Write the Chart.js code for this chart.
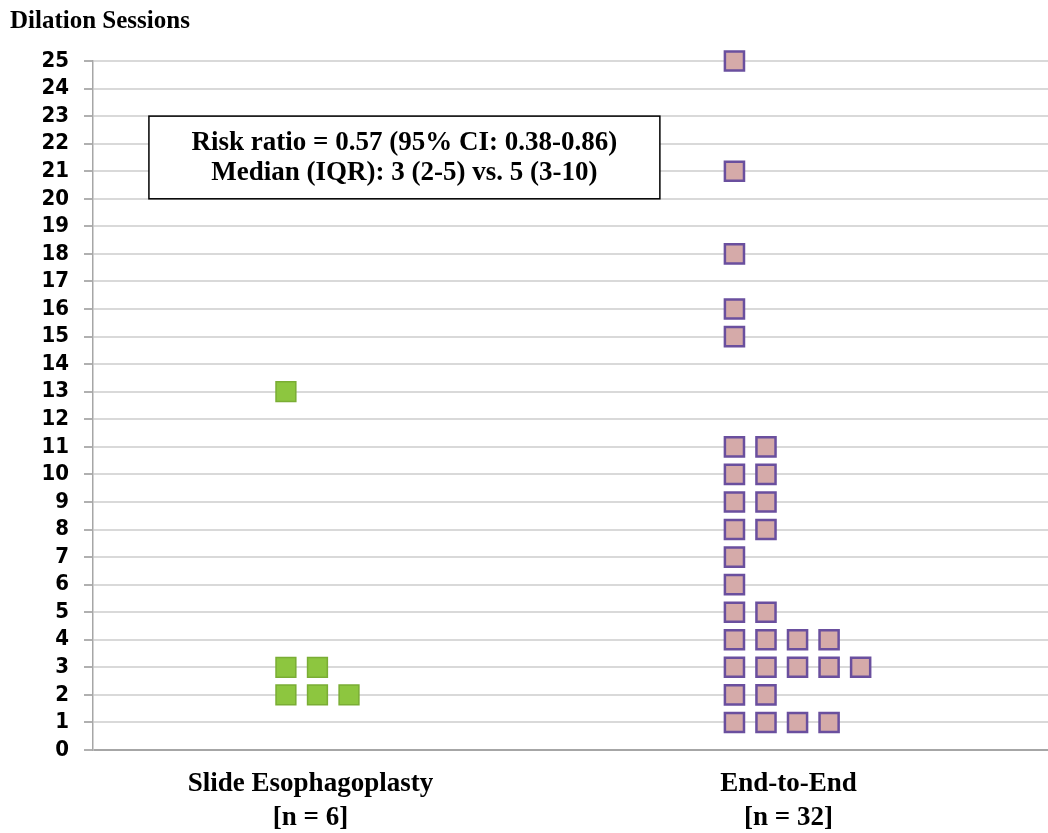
<!DOCTYPE html>
<html>
<head>
<meta charset="utf-8">
<script src="https://cdn.jsdelivr.net/npm/chart.js@4/dist/chart.umd.min.js"></script>
<style>
  html, body { margin: 0; padding: 0; background: #fff; overflow: hidden; }
  #wrap { width: 1048px; height: 833px; position: relative; }
  canvas { display: block; }
</style>
</head>
<body>
<div id="wrap"><canvas id="dotChart"></canvas></div>
<script>
// Groups and their sample sizes
const groupNames = ['Slide Esophagoplasty', 'End-to-End'];
const groupCounts = ['[n = 6]', '[n = 32]'];

// Dilation sessions per patient
const slideSessions = [13, 3, 3, 2, 2, 2];
const endSessions = [25, 21, 18, 16, 15, 11, 11, 10, 10, 9, 9, 8, 8, 7, 6, 5, 5,
    4, 4, 4, 4, 3, 3, 3, 3, 3, 2, 2, 1, 1, 1, 1];

const statLines = ['Risk ratio = 0.57 (95% CI: 0.38-0.86)', 'Median (IQR): 3 (2-5) vs. 5 (3-10)'];

// layout of the stacked squares (x axis runs -0.455 .. 1.543)
const STEP = 0.066;
function stackDots(values, base) {
    const seen = {};
    return values.map(v => {
        const k = seen[v] || 0;
        seen[v] = k + 1;
        return { x: base + k * STEP, y: v };
    });
}

// Annotation box
const statBox = {
    id: 'statBox',
    afterDatasetsDraw(chart) {
        const { ctx, scales: { x, y } } = chart;
        const left = x.getPixelForValue(-0.338);
        const right = x.getPixelForValue(0.731);
        const top = y.getPixelForValue(23);
        const bottom = y.getPixelForValue(20);
        ctx.save();
        ctx.fillStyle = '#fff';
        ctx.fillRect(left, top, right - left, bottom - top);
        ctx.strokeStyle = '#000';
        ctx.lineWidth = 1.5;
        ctx.strokeRect(left, top, right - left, bottom - top);
        ctx.fillStyle = '#000';
        ctx.font = "bold 27px 'Liberation Serif'";
        ctx.textAlign = 'center';
        ctx.textBaseline = 'middle';
        const cx = (left + right) / 2, cy = (top + bottom) / 2;
        ctx.fillText(statLines[0], cx, cy - 14);
        ctx.fillText(statLines[1], cx, cy + 16);
        ctx.restore();
    }
};

const ctx = document.getElementById('dotChart').getContext('2d');
const dotChart = new Chart(ctx, {
    type: 'scatter',
    data: {
        datasets: [{
            label: groupNames[0],
            data: stackDots(slideSessions, -0.0514),
            pointStyle: 'rect',
            pointRadius: 14,
            backgroundColor: '#8dc63f',
            borderColor: '#7aad34',
            borderWidth: 1.5,
            clip: false
        }, {
            label: groupNames[1],
            data: stackDots(endSessions, 0.887),
            pointStyle: 'rect',
            pointRadius: 13.5,
            backgroundColor: '#d5aaa9',
            borderColor: '#6a4f9e',
            borderWidth: 2.5,
            clip: false
        }]
    },
    options: {
        responsive: true,
        maintainAspectRatio: false,
        animation: false,
        layout: { autoPadding: false, padding: { left: 10, right: 0, top: 0, bottom: 2 } },
        plugins: {
            legend: { display: false },
            tooltip: { enabled: false },
            title: {
                display: true,
                text: 'Dilation Sessions',
                align: 'start',
                color: '#000',
                font: { family: 'Liberation Serif', size: 25, weight: 'bold', lineHeight: 1.2 },
                padding: { top: 7, bottom: 24 }
            }
        },
        scales: {
            x: {
                type: 'linear',
                min: -0.455,
                max: 1.543,
                afterBuildTicks: (scale) => { scale.ticks = [{ value: 0 }, { value: 1 }]; },
                afterFit: (scale) => {
                    scale.height = 81;
                    scale.paddingLeft = 0;
                    scale.paddingRight = 0;
                },
                grid: { display: false, drawTicks: false },
                border: { display: false },
                ticks: {
                    padding: 17,
                    color: '#000',
                    font: { family: 'Liberation Serif', size: 27, weight: 'bold', lineHeight: 1.27 },
                    maxRotation: 0,
                    autoSkip: false,
                    callback: (v) => [groupNames[Math.round(v)], groupCounts[Math.round(v)]]
                }
            },
            y: {
                min: 0,
                max: 25,
                afterFit: (scale) => { scale.width = 83; },
                ticks: {
                    stepSize: 1,
                    autoSkip: false,
                    padding: 15,
                    color: '#000',
                    font: { family: "'DejaVu Sans Condensed', 'DejaVu Sans', sans-serif", size: 22, weight: 'bold' }
                },
                grid: {
                    color: (c) => c.tick && c.tick.value === 0 ? '#a6a6a6' : '#d9d9d9',
                    lineWidth: 2,
                    tickLength: 9,
                    tickColor: '#b0b0b0'
                },
                border: { color: '#a6a6a6', width: 1.5 }
            }
        }
    },
    plugins: [statBox]
});
</script>
</body>
</html>
